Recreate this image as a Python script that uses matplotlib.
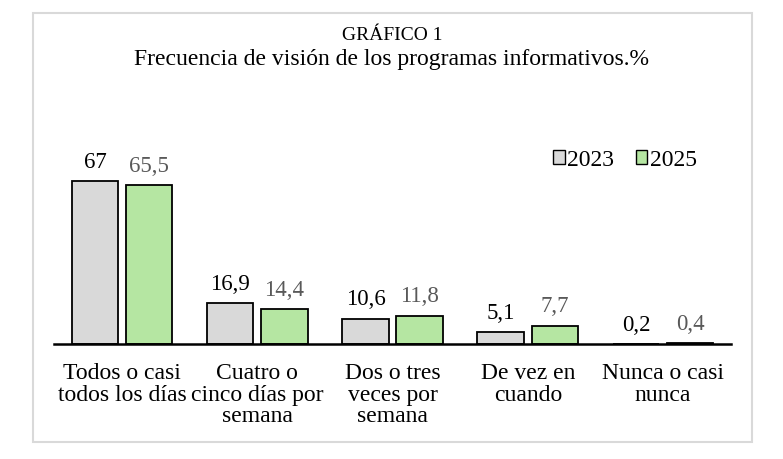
import numpy as np
import matplotlib.pyplot as plt
from matplotlib.patches import Rectangle, Patch

# ===================================== #
#                 数据                  #
# ===================================== #
categories = ['Todos o casi\ntodos los días', 'Cuatro o\ncinco días por\nsemana',
              'Dos o tres\nveces por\nsemana', 'De vez en\ncuando', 'Nunca o casi\nnunca']
years = ['2023', '2025']
values_2023 = [67, 16.9, 10.6, 5.1, 0.2]
values_2025 = [65.5, 14.4, 11.8, 7.7, 0.4]

color_2023 = '#d9d9d9'
color_2025 = '#b5e6a2'

plt.rcParams['font.family'] = ['Liberation Serif', 'DejaVu Serif']

W, H = 783, 459
fig = plt.figure(figsize=(W / 100, H / 100), dpi=100)

# 外框
fig.patches.append(Rectangle((33 / W, 1 - 442 / H), (752 - 33) / W, (442 - 13) / H,
                             transform=fig.transFigure, fill=False,
                             edgecolor='#d9d9d9', linewidth=1.5))

# 坐标轴位置 (像素换算)
ax_left, ax_right = 54.3, 730.7
ax_bottom, ax_top = 344.3, 120
ax = fig.add_axes([ax_left / W, 1 - ax_bottom / H, (ax_right - ax_left) / W, (ax_bottom - ax_top) / H])
ax.set_ylim(0, (ax_bottom - ax_top) / 2.433)
ax.set_xlim(-0.5, len(categories) - 0.5)

x = np.arange(len(categories))
bw = 0.345
off = (bw + 0.055) / 2
ax.bar(x - off, values_2023, bw, color=color_2023, edgecolor='black', linewidth=1.3, label=years[0])
ax.bar(x + off, values_2025, bw, color=color_2025, edgecolor='black', linewidth=1.3, label=years[1])


def fmt(v):
    s = f'{v:g}'
    return s.replace('.', ',')


for xi, v in zip(x, values_2023):
    ax.annotate(fmt(v), (xi - off, v), xytext=(0, 13.5), textcoords='offset points',
                ha='center', va='center', fontsize=16.5, color='black')
for xi, v in zip(x, values_2025):
    ax.annotate(fmt(v), (xi + off, v), xytext=(0, 13.5), textcoords='offset points',
                ha='center', va='center', fontsize=16.5, color='#595959')

# 类别标签
for xi, lab in zip(x, categories):
    ax.text(xi, -0.085, lab, transform=ax.get_xaxis_transform(), ha='center', va='top',
            fontsize=17, linespacing=1.03)

for s in ['top', 'right', 'left']:
    ax.spines[s].set_visible(False)
ax.spines['bottom'].set_linewidth(1.8)
ax.set_yticks([])
ax.set_xticks([])

# 图例
handles = [Patch(facecolor=color_2023, edgecolor='black', linewidth=1.0),
           Patch(facecolor=color_2025, edgecolor='black', linewidth=1.0)]
fig.legend(handles, years, loc='center', bbox_to_anchor=(625 / W, 1 - 160 / H), ncol=2,
           frameon=False, fontsize=17, handlelength=0.5, handleheight=0.5,
           handletextpad=0.1, columnspacing=0.9, borderpad=0)

# 标题
fig.text(392 / W, 1 - 36 / H, 'GRÁFICO 1', ha='center', va='center', fontsize=14)
fig.text(392 / W, 1 - 59 / H, 'Frecuencia de visión de los programas informativos.%',
         ha='center', va='center', fontsize=17)

fig.savefig('out.png', dpi=100)
